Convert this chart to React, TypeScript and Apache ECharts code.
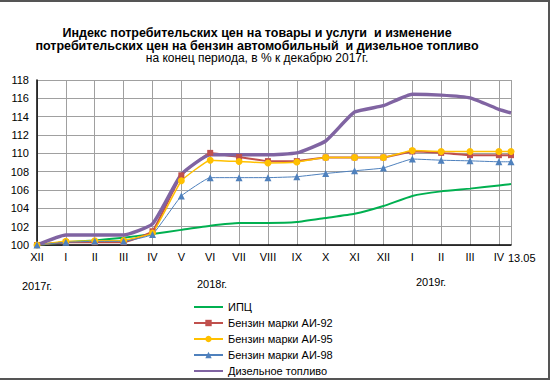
import React, { useEffect, useRef } from "react";
import * as echarts from "echarts";

const monthLabels = ["XII", "I", "II", "III", "IV", "V", "VI", "VII", "VIII", "IX", "X", "XI", "XII", "I", "II", "III", "IV"];
const lastLabel = "13.05";
// x positions: month index, last point = 13 May (13/31 of month after IV 2019)
const xPositions = [0, 1, 2, 3, 4, 5, 6, 7, 8, 9, 10, 11, 12, 13, 14, 15, 16, 16 + 13 / 31];

const cpi = [100, 100.3, 100.5, 100.8, 101.2, 101.65, 102.1, 102.4, 102.4, 102.5, 102.95, 103.4, 104.25, 105.35, 105.85, 106.15, 106.5, 106.65];
const ai92 = [100, 100.3, 100.3, 100.3, 101.5, 107.6, 110.05, 109.6, 109.15, 109.15, 109.55, 109.55, 109.55, 110.2, 110.05, 109.8, 109.8, 109.8];
const ai95 = [100, 100.4, 100.45, 100.5, 101.3, 107.0, 109.25, 109.1, 108.95, 109.05, 109.55, 109.55, 109.55, 110.3, 110.2, 110.2, 110.2, 110.2];
const ai98 = [100, 100.3, 100.4, 100.4, 101.15, 105.35, 107.35, 107.35, 107.35, 107.45, 107.8, 108.1, 108.4, 109.38, 109.25, 109.18, 109.08, 109.08];
const diesel = [100, 101.1, 101.1, 101.1, 102.3, 107.7, 109.85, 109.85, 109.85, 110.05, 111.35, 114.5, 115.2, 116.45, 116.35, 116.05, 114.8, 114.4];

const seriesNames = ["ИПЦ", "Бензин марки АИ-92", "Бензин марки АИ-95", "Бензин марки АИ-98", "Дизельное топливо"];
const yearLabels = ["2017г.", "2018г.", "2019г."];

const titleLine1 = "Индекс потребительских цен на товары и услуги  и изменение";
const titleLine2 = "потребительских цен на бензин автомобильный  и дизельное топливо";
const titleLine3 = "на конец периода, в % к декабрю 2017г.";

const FONT = "'Liberation Sans', Arial, sans-serif";

function pts(vals: number[]) {
  return vals.map((v, i) => [xPositions[i], v]);
}

export default function App() {
  const ref = useRef<HTMLDivElement>(null);
  useEffect(() => {
    document.body.style.margin = "0";
    const chart = echarts.init(ref.current!, null, { renderer: "svg" });
    const maxX = xPositions[xPositions.length - 1];
    chart.setOption({
      animation: false,
      backgroundColor: "#ffffff",
      textStyle: { fontFamily: FONT },
      grid: { left: 37, right: 40, top: 80, bottom: 136, containLabel: false },
      xAxis: {
        type: "value",
        min: 0,
        max: maxX,
        interval: 1,
        axisLine: { show: true, onZero: false, lineStyle: { color: "#000", width: 1.5 } },
        axisTick: { show: false },
        splitLine: { show: true, lineStyle: { color: "#a0a0a0", width: 1 } },
        axisLabel: {
          color: "#000",
          fontSize: 11,
          fontFamily: FONT,
          margin: 6,
          showMaxLabel: false,
          showMinLabel: true,
          formatter: (v: number) => {
            const i = Math.round(v);
            if (Math.abs(v - i) < 1e-6 && i >= 0 && i < monthLabels.length) return monthLabels[i];
            return "";
          },
        },
      },
      yAxis: {
        type: "value",
        min: 100,
        max: 118,
        interval: 2,
        axisLine: { show: true, lineStyle: { color: "#000", width: 1.5 } },
        axisTick: { show: false },
        splitLine: { show: true, lineStyle: { color: "#a0a0a0", width: 1 } },
        axisLabel: { color: "#000", fontSize: 11, fontFamily: FONT, margin: 8 },
      },
      legend: {
        orient: "vertical",
        left: 193,
        top: 301,
        height: 100,
        padding: 0,
        itemWidth: 29,
        itemHeight: 8,
        itemGap: 4,
        textStyle: { fontSize: 11, lineHeight: 12, fontFamily: FONT, color: "#000" },
        data: [
          { name: seriesNames[0], itemStyle: { opacity: 0 } },
          { name: seriesNames[1] },
          { name: seriesNames[2] },
          { name: seriesNames[3] },
          { name: seriesNames[4], itemStyle: { opacity: 0 } },
        ],
      },
      series: [
        {
          name: seriesNames[0], type: "line", data: pts(cpi), smooth: 0.15,
          symbol: "none", lineStyle: { color: "#00b050", width: 2 }, itemStyle: { color: "#00b050" },
        },
        {
          name: seriesNames[1], type: "line", data: pts(ai92), smooth: 0.1,
          symbol: "rect", symbolSize: 6, lineStyle: { color: "#c0504d", width: 2 }, itemStyle: { color: "#c0504d" },
        },
        {
          name: seriesNames[2], type: "line", data: pts(ai95), smooth: 0.1,
          symbol: "circle", symbolSize: 7, lineStyle: { color: "#ffc000", width: 1.5 }, itemStyle: { color: "#ffc000" },
        },
        {
          name: seriesNames[3], type: "line", data: pts(ai98), smooth: 0.1,
          symbol: "triangle", symbolSize: 7, lineStyle: { color: "#4f81bd", width: 1 }, itemStyle: { color: "#4f81bd" },
        },
        {
          name: seriesNames[4], type: "line", data: pts(diesel), smooth: 0.15,
          symbol: "none", lineStyle: { color: "#8064a2", width: 3.5 }, itemStyle: { color: "#8064a2" },
        },
      ],
      graphic: [
        { type: "rect", silent: true, shape: { x: -2, y: 1, width: 551, height: 378 }, style: { fill: "none", stroke: "#555", lineWidth: 2 } },
        {
          type: "text", x: 257, y: 26,
          style: {
            text: "{b|" + titleLine1 + "}\n{b|" + titleLine2 + "}\n{n|" + titleLine3 + "}",
            fill: "#000",
            textAlign: "center",
            rich: {
              b: { font: "bold 12.5px " + FONT, lineHeight: 13, fill: "#000" },
              n: { font: "12px " + FONT, lineHeight: 12, fill: "#000" },
            },
          },
        },
        { type: "text", x: 508, y: 258, style: { text: lastLabel, font: "11px " + FONT, fill: "#000", textAlign: "left", textVerticalAlign: "middle" } },
        { type: "text", x: 37, y: 286, style: { text: yearLabels[0], font: "11px " + FONT, fill: "#000", textAlign: "center", textVerticalAlign: "middle" } },
        { type: "text", x: 212, y: 284, style: { text: yearLabels[1], font: "11px " + FONT, fill: "#000", textAlign: "center", textVerticalAlign: "middle" } },
        { type: "text", x: 431, y: 282, style: { text: yearLabels[2], font: "11px " + FONT, fill: "#000", textAlign: "center", textVerticalAlign: "middle" } },
      ],
    });
    return () => chart.dispose();
  }, []);
  return <div ref={ref} style={{ width: 551, height: 381 }} />;
}
